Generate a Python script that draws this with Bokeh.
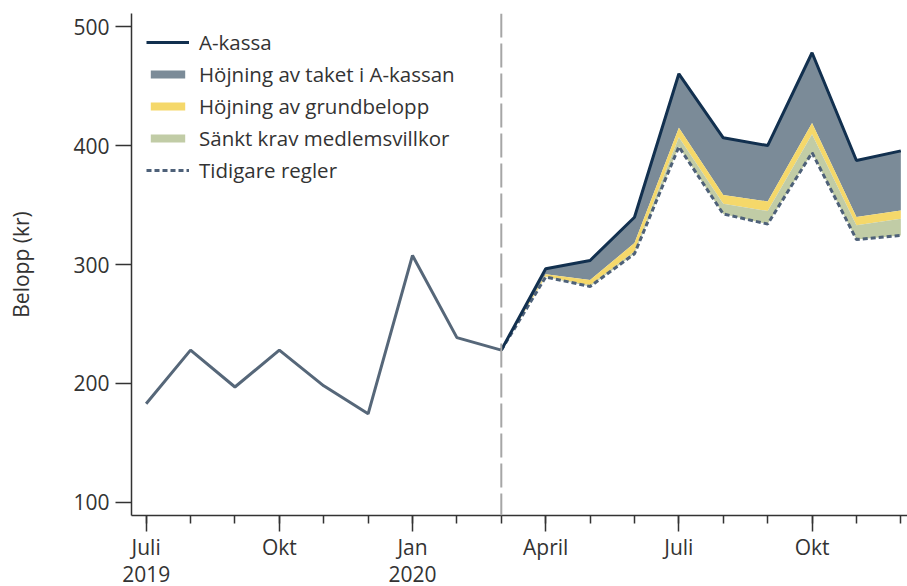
from bokeh.plotting import figure
from bokeh.models import Range1d, FixedTicker, Span, Legend, LegendItem, LinearAxis
from bokeh.embed import file_html
from bokeh.resources import INLINE

# ---- data ----
month_idx = list(range(18))  # Jul 2019 .. Dec 2020
pre_x = month_idx[0:9]
pre_values = [183, 228, 197, 228, 198, 174.5, 307.6, 238.5, 228]

post_x = month_idx[8:18]
tidigare = [228, 289.5, 281.5, 309, 399, 342.5, 334, 394, 321, 324.4]
sankt_top = [228, 290, 282.5, 311, 407, 351, 345, 409.5, 333, 338.4]
grund_top = [228, 291.8, 287, 318, 415, 358.5, 353, 419, 340, 345.4]
akassa = [228, 296.5, 303.4, 339.7, 460.3, 406.5, 400, 478, 387.4, 395.5]

major_ticks = [0, 3, 6, 9, 12, 15]
major_labels = ["Juli", "Okt", "Jan", "April", "Juli", "Okt"]
year_ticks = [0, 6]
year_labels = ["2019", "2020"]
y_ticks = [100, 200, 300, 400, 500]
policy_month = 8

FONT = "Open Sans"
TXT = "#333333"

p = figure(width=907, height=586, output_backend="svg", toolbar_location=None,
           x_range=Range1d(-0.33, 17.15), y_range=Range1d(89, 511),
           min_border_left=131, min_border_right=0, min_border_top=13,
           min_border_bottom=71)
p.outline_line_color = None
p.xgrid.grid_line_color = None
p.ygrid.grid_line_color = None
p.background_fill_color = "white"
p.border_fill_color = "white"

# areas
r_gray = p.varea(x=post_x, y1=grund_top, y2=akassa, fill_color="#7b8b98")
r_yel = p.varea(x=post_x, y1=sankt_top, y2=grund_top, fill_color="#f5d86a")
r_grn = p.varea(x=post_x, y1=tidigare, y2=sankt_top, fill_color="#c1cca6")

vline = Span(location=policy_month, dimension="height", line_color="#a6a6a6",
             line_width=2, line_dash="24 6")
p.add_layout(vline)

p.line(pre_x, pre_values, line_color="#566779", line_width=3)
r_dot = p.line(post_x, tidigare, line_color="#4e6179", line_width=3, line_dash="5 3")
r_nav = p.line(post_x, akassa, line_color="#12304f", line_width=3)

# axes
xa = p.xaxis[0]
xa.ticker = FixedTicker(ticks=major_ticks, minor_ticks=month_idx)
xa.major_label_overrides = {t: l for t, l in zip(major_ticks, major_labels)}
xa.major_tick_in = 0
xa.major_tick_out = 16
xa.minor_tick_in = 0
xa.minor_tick_out = 8
xa.major_label_standoff = 1
xa.major_label_text_font = FONT
xa.major_label_text_font_size = "21px"
xa.major_label_text_color = TXT
xa.axis_line_color = "#333333"
xa.axis_line_width = 1.5
xa.major_tick_line_color = "#333333"
xa.major_tick_line_width = 1.5
xa.minor_tick_line_color = "#333333"
xa.minor_tick_line_width = 1.5

# year row as a second, line-less axis below the month axis
ya2 = LinearAxis(ticker=FixedTicker(ticks=year_ticks),
                 major_label_overrides={t: l for t, l in zip(year_ticks, year_labels)})
ya2.axis_line_color = None
ya2.major_tick_line_color = None
ya2.minor_tick_line_color = None
ya2.major_tick_in = 0
ya2.major_tick_out = 0
ya2.minor_tick_in = 0
ya2.minor_tick_out = 0
ya2.major_label_standoff = 2
ya2.major_label_text_font = FONT
ya2.major_label_text_font_size = "21px"
ya2.major_label_text_color = TXT
p.add_layout(ya2, "below")

ya = p.yaxis[0]
ya.ticker = FixedTicker(ticks=y_ticks)
ya.major_tick_in = 0
ya.major_tick_out = 16
ya.minor_tick_line_color = None
ya.major_label_standoff = 6
ya.major_label_text_font = FONT
ya.major_label_text_font_size = "21px"
ya.major_label_text_color = TXT
ya.axis_line_color = "#333333"
ya.axis_line_width = 1.5
ya.major_tick_line_color = "#333333"
ya.major_tick_line_width = 1.5
ya.axis_label = "Belopp (kr)"
ya.axis_label_text_font = FONT
ya.axis_label_text_font_size = "21px"
ya.axis_label_text_font_style = "normal"
ya.axis_label_text_color = TXT
ya.axis_label_standoff = 35

legend = Legend(items=[
    LegendItem(label="A-kassa", renderers=[r_nav]),
    LegendItem(label="Höjning av taket i A-kassan", renderers=[r_gray]),
    LegendItem(label="Höjning av grundbelopp", renderers=[r_yel]),
    LegendItem(label="Sänkt krav medlemsvillkor", renderers=[r_grn]),
    LegendItem(label="Tidigare regler", renderers=[r_dot]),
], location="top_left")
legend.border_line_color = None
legend.background_fill_alpha = 0
legend.margin = 15
legend.padding = 6
legend.spacing = 4
legend.glyph_width = 43
legend.glyph_height = 10
legend.label_height = 26
legend.label_standoff = 10
legend.label_text_font = FONT
legend.label_text_font_size = "20.5px"
legend.label_text_color = TXT
p.add_layout(legend)

open("out.html", "w").write(file_html(p, INLINE))
